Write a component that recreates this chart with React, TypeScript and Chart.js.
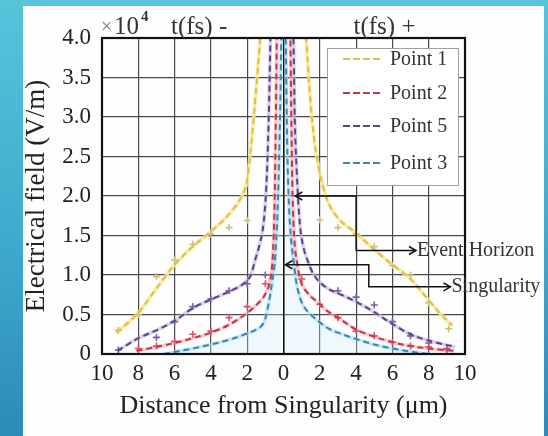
import React, { useEffect, useRef } from "react";
import { Chart, registerables } from "chart.js";

Chart.register(...registerables);

const FONT = '"Liberation Serif", "Times New Roman", Times, serif';

// ---- axes ----
const xTickValues = [-10, -8, -6, -4, -2, 0, 2, 4, 6, 8, 10];
const yTickValues = [0, 0.5, 1, 1.5, 2, 2.5, 3, 3.5, 4];

// ---- series labels (legend order) ----
const seriesLabels = ["Point 1", "Point 2", "Point 5", "Point 3"];

// ---- Point 1 (yellow) fitted curve ----
const p1FitLeftX = [-9.2, -8, -7, -6, -5, -4, -3, -2.3, -2.0, -1.8, -1.6, -1.42, -1.28, -1.15];
const p1FitLeftY = [0.27, 0.52, 0.83, 1.13, 1.36, 1.55, 1.77, 2.0, 2.2, 2.6, 3.1, 3.6, 4.0, 4.4];
const p1FitRightX = [1.15, 1.25, 1.45, 1.7, 1.95, 2.2, 2.5, 3, 4, 5, 6, 7, 8, 8.6, 9.3];
const p1FitRightY = [4.4, 4.0, 3.3, 2.7, 2.35, 2.1, 1.9, 1.72, 1.53, 1.32, 1.13, 0.95, 0.68, 0.52, 0.36];
// Point 1 measured
const p1PtsX = [-9.1, -8, -7, -6, -5, -4, -3, -2, 2, 3, 4, 5, 6, 7, 8, 9.1];
const p1PtsY = [0.3, 0.5, 0.98, 1.19, 1.39, 1.52, 1.6, 1.69, 1.7, 1.6, 1.52, 1.36, 1.12, 1.0, 0.65, 0.32];

// ---- Point 2 (red) ----
const p2FitLeftX = [-8.1, -7, -6, -5, -4, -3, -2, -1.5, -1.0, -0.75, -0.6, -0.5, -0.43, -0.37, -0.33];
const p2FitLeftY = [0.04, 0.09, 0.14, 0.2, 0.27, 0.37, 0.52, 0.62, 0.76, 0.92, 1.2, 1.8, 2.8, 4.0, 4.6];
const p2FitRightX = [0.33, 0.38, 0.43, 0.5, 0.6, 0.75, 0.95, 1.3, 1.8, 2.5, 3, 4, 5, 6, 7, 8, 9.4];
const p2FitRightY = [4.6, 4.0, 3.0, 2.0, 1.45, 1.15, 0.92, 0.78, 0.67, 0.53, 0.46, 0.31, 0.22, 0.15, 0.1, 0.07, 0.04];
const p2PtsX = [-8, -7, -6, -5, -4, -3, -2, -1, 1, 2, 3, 4, 5, 6, 7, 8, 9];
const p2PtsY = [0.07, 0.1, 0.16, 0.25, 0.29, 0.46, 0.6, 0.89, 0.95, 0.63, 0.46, 0.29, 0.23, 0.15, 0.1, 0.09, 0.05];

// ---- Point 5 (purple) ----
const p5FitLeftX = [-9.15, -8, -7, -6, -5, -4, -3, -2.1, -1.8, -1.56, -1.3, -1.1, -0.95, -0.85, -0.77, -0.72, -0.68];
const p5FitLeftY = [0.04, 0.2, 0.3, 0.42, 0.58, 0.69, 0.79, 0.91, 1.0, 1.19, 1.4, 1.65, 2.1, 2.7, 3.4, 4.0, 4.5];
const p5FitRightX = [0.5, 0.55, 0.62, 0.72, 0.9, 1.1, 1.35, 1.6, 1.95, 2.5, 3, 4, 5, 6, 7, 8, 9.45];
const p5FitRightY = [4.5, 4.0, 3.0, 2.35, 1.65, 1.35, 1.17, 1.03, 0.92, 0.82, 0.77, 0.66, 0.53, 0.38, 0.25, 0.17, 0.09];
const p5PtsX = [-9.1, -7, -6, -5, -4, -3, -2, -1, 3, 4, 5, 6, 7, 8, 9];
const p5PtsY = [0.05, 0.21, 0.41, 0.6, 0.7, 0.8, 0.89, 1.0, 0.8, 0.72, 0.62, 0.41, 0.23, 0.14, 0.07];

// ---- Point 3 (blue) ----
const p3FitLeftX = [-6.6, -5, -4, -3, -2, -1.5, -1.2, -1.0, -0.82, -0.62, -0.46, -0.33, -0.22, -0.14, -0.1];
const p3FitLeftY = [0.0, 0.07, 0.12, 0.18, 0.26, 0.31, 0.36, 0.45, 0.64, 0.92, 1.22, 1.8, 2.7, 3.7, 4.5];
const p3FitRightX = [0.1, 0.14, 0.2, 0.3, 0.42, 0.55, 0.7, 0.9, 1.1, 1.5, 2, 2.5, 3, 4, 5, 6, 7, 8];
const p3FitRightY = [4.5, 3.7, 2.7, 1.9, 1.45, 1.19, 0.92, 0.72, 0.61, 0.5, 0.4, 0.32, 0.27, 0.19, 0.12, 0.07, 0.03, 0.0];

// ---- annotations (data coordinates) ----
const eventHorizonPathX = [0.65, 4.0, 4.0, 7.3];
const eventHorizonPathY = [2.0, 2.0, 1.31, 1.31];
const singularityPathX = [0.1, 4.7, 4.7, 9.2];
const singularityPathY = [1.13, 1.13, 0.85, 0.85];
const annotationLabels = ["Event Horizon", "Singularity"];

// ---- styles ----
const mainColors = ["#e0bf45", "#c63446", "#574585", "#3a88b2"];
const haloColors = ["rgba(246,232,150,0.85)", "rgba(242,172,182,0.6)", "rgba(196,176,228,0.6)", "rgba(165,216,236,0.6)"];
const pointColors = ["#cdbf7c", "#d9546c", "#7a5ea8"];

const pts = (xs: number[], ys: number[]) => xs.map((x, i) => ({ x, y: ys[i] }));
const joined = (lx: number[], ly: number[], rx: number[], ry: number[]) => [
  ...pts(lx, ly),
  { x: 0, y: null as any },
  ...pts(rx, ry),
];

const fits = [
  joined(p1FitLeftX, p1FitLeftY, p1FitRightX, p1FitRightY),
  joined(p2FitLeftX, p2FitLeftY, p2FitRightX, p2FitRightY),
  joined(p5FitLeftX, p5FitLeftY, p5FitRightX, p5FitRightY),
  joined(p3FitLeftX, p3FitLeftY, p3FitRightX, p3FitRightY),
];
const measured = [pts(p1PtsX, p1PtsY), pts(p2PtsX, p2PtsY), pts(p5PtsX, p5PtsY)];

function buildDatasets() {
  const ds: any[] = [];
  fits.forEach((data, i) => {
    ds.push({
      data,
      borderColor: haloColors[i],
      backgroundColor: i === 3 ? "rgba(205,236,248,0.3)" : "transparent",
      fill: i === 3 ? "origin" : false,
      borderWidth: 3.6,
      pointRadius: 0,
      cubicInterpolationMode: "monotone",
      spanGaps: false,
      order: 8,
    });
  });
  measured.forEach((data, i) => {
    ds.push({
      data,
      showLine: false,
      pointStyle: "cross",
      pointRadius: 3.5,
      pointBorderWidth: 1.6,
      pointBorderColor: pointColors[i],
      pointBackgroundColor: pointColors[i],
      borderColor: pointColors[i],
      order: 6,
    });
  });
  fits.forEach((data, i) => {
    ds.push({
      data,
      legendLabel: seriesLabels[i],
      borderColor: mainColors[i],
      borderWidth: 2,
      borderDash: [6, 4],
      pointRadius: 0,
      fill: false,
      cubicInterpolationMode: "monotone",
      spanGaps: false,
      order: 1,
    });
  });
  return ds;
}

function arrowHead(ctx: CanvasRenderingContext2D, x: number, y: number, dir: number) {
  ctx.beginPath();
  ctx.moveTo(x - dir * 7, y - 4);
  ctx.lineTo(x, y);
  ctx.lineTo(x - dir * 7, y + 4);
  ctx.stroke();
}

const decorPlugin = {
  id: "decor",
  afterDatasetsDraw(chart: any) {
    const { ctx, chartArea: ca, scales } = chart;
    const xs = scales.x;
    const ys = scales.y;
    ctx.save();

    // frame
    ctx.strokeStyle = "#111";
    ctx.lineWidth = 2.2;
    ctx.strokeRect(ca.left, ca.top, ca.right - ca.left, ca.bottom - ca.top);

    // legend
    const lx = ca.right - 138;
    const ly = ca.top + 10;
    const lw = 131;
    const lh = 137;
    ctx.fillStyle = "#ffffff";
    ctx.fillRect(lx, ly, lw, lh);
    ctx.strokeStyle = "#a0a0a0";
    ctx.lineWidth = 1;
    ctx.strokeRect(lx + 0.5, ly + 0.5, lw, lh);
    const rowOffsets = [11, 45, 78, 115];
    const legendSets = chart.data.datasets.filter((d: any) => d.legendLabel);
    legendSets.forEach((d: any, i: number) => {
      const yy = ly + rowOffsets[i];
      ctx.strokeStyle = d.borderColor;
      ctx.lineWidth = 2.2;
      ctx.setLineDash([7, 3]);
      ctx.beginPath();
      ctx.moveTo(lx + 16, yy);
      ctx.lineTo(lx + 56, yy);
      ctx.stroke();
      ctx.setLineDash([]);
      ctx.fillStyle = "#333";
      ctx.font = `20px ${FONT}`;
      ctx.textAlign = "left";
      ctx.textBaseline = "middle";
      ctx.fillText(d.legendLabel, lx + 63, yy + 1);
    });

    // annotation arrows
    const paths = [
      [eventHorizonPathX, eventHorizonPathY],
      [singularityPathX, singularityPathY],
    ];
    paths.forEach(([px, py], k) => {
      const P = px.map((x: number, i: number) => [xs.getPixelForValue(x), ys.getPixelForValue(py[i])]);
      ctx.strokeStyle = "#111";
      ctx.lineWidth = 1.5;
      ctx.beginPath();
      P.forEach((p: number[], i: number) => (i === 0 ? ctx.moveTo(p[0], p[1]) : ctx.lineTo(p[0], p[1])));
      ctx.stroke();
      arrowHead(ctx, P[0][0], P[0][1], -1);
      const last = P[P.length - 1];
      arrowHead(ctx, last[0], last[1], 1);
      ctx.fillStyle = "#333";
      ctx.font = `20px ${FONT}`;
      ctx.textAlign = "left";
      ctx.textBaseline = "middle";
      ctx.fillText(annotationLabels[k], last[0] + 1, last[1]);
    });

    // header texts
    const base = ca.top - 4;
    ctx.textBaseline = "alphabetic";
    ctx.textAlign = "left";
    ctx.fillStyle = "#777";
    ctx.font = `20px ${FONT}`;
    ctx.fillText("×", ca.left - 1, base - 1);
    ctx.fillStyle = "#333";
    ctx.font = `25px ${FONT}`;
    ctx.fillText("10", ca.left + 12, base);
    ctx.font = `bold 15px ${FONT}`;
    ctx.fillText("4", ca.left + 39, base - 13);
    ctx.font = `25px ${FONT}`;
    ctx.fillText("t(fs) -", ca.left + 69, base);
    ctx.fillText("t(fs) +", xs.getPixelForValue(0) + 70, base);

    ctx.restore();
  },
};

export default function App() {
  const ref = useRef<HTMLCanvasElement>(null);

  useEffect(() => {
    const canvas = ref.current;
    if (!canvas) return;
    const chart = new Chart(canvas, {
      type: "line",
      data: { datasets: buildDatasets() },
      options: {
        responsive: false,
        animation: false,
        devicePixelRatio: 1,
        layout: { padding: { top: 38, right: 83, bottom: 0, left: 0 } },
        plugins: {
          legend: { display: false },
          tooltip: { enabled: false },
        },
        scales: {
          x: {
            type: "linear",
            min: -10,
            max: 10,
            afterFit: (s: any) => {
              s.height = 82;
            },
            afterBuildTicks: (s: any) => {
              s.ticks = xTickValues.map((v) => ({ value: v }));
            },
            ticks: {
              callback: (v: any) => String(Math.abs(Number(v))),
              font: { family: FONT, size: 23 },
              color: "#222",
              padding: 6,
              maxRotation: 0,
              autoSkip: false,
            },
            grid: {
              color: (c: any) => (c.tick && c.tick.value === 0 ? "#111" : "#4a4a4a"),
              lineWidth: (c: any) => (c.tick && c.tick.value === 0 ? 1.6 : 1.2),
              drawTicks: false,
            },
            border: { display: true, color: "#111", width: 2 },
            title: {
              display: true,
              text: "Distance from Singularity (μm)",
              font: { family: FONT, size: 26 },
              color: "#222",
              padding: { top: 0, bottom: 14 },
            },
          },
          y: {
            type: "linear",
            min: 0,
            max: 4,
            afterFit: (s: any) => {
              s.width = 102;
            },
            afterBuildTicks: (s: any) => {
              s.ticks = yTickValues.map((v) => ({ value: v }));
            },
            ticks: {
              callback: (v: any) => (Number(v) === 0 ? "0" : Number(v).toFixed(1)),
              font: { family: FONT, size: 23 },
              color: "#222",
              padding: 11,
              autoSkip: false,
            },
            grid: { color: "#4a4a4a", lineWidth: 1.2, drawTicks: false },
            border: { display: true, color: "#111", width: 2 },
            title: {
              display: true,
              text: "Electrical field (V/m)",
              font: { family: FONT, size: 27 },
              color: "#222",
              padding: { top: 21, bottom: 0 },
            },
          },
        },
      },
      plugins: [decorPlugin],
    } as any);
    return () => chart.destroy();
  }, []);

  return (
    <div
      style={{
        position: "fixed",
        left: 0,
        top: 0,
        width: 548,
        height: 436,
        overflow: "hidden",
        background: "linear-gradient(180deg, #57c4da 0%, #3faacd 55%, #2d8bb7 100%)",
      }}
    >
      <div
        style={{
          position: "absolute",
          left: 23,
          top: 6,
          width: 521,
          height: 430,
          background: "#fefefe",
        }}
      />
      <canvas
        ref={ref}
        width={548}
        height={436}
        style={{ position: "absolute", left: 0, top: 0, width: 548, height: 436 }}
      />
    </div>
  );
}
